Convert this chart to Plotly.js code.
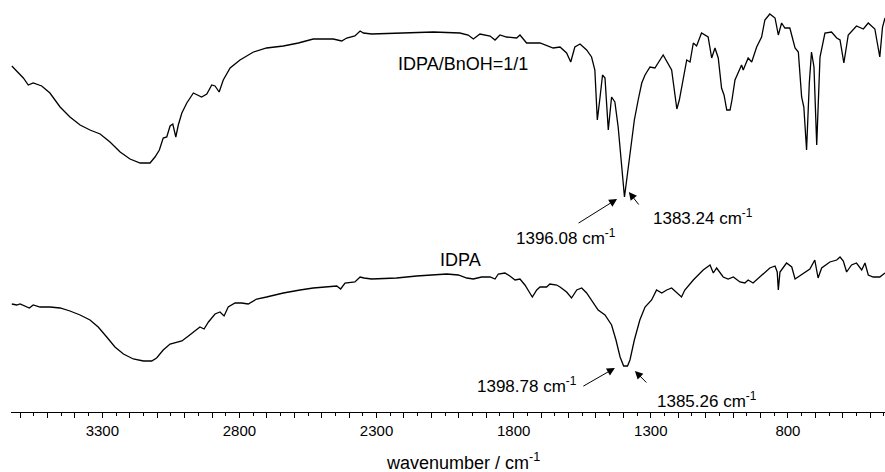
<!DOCTYPE html>
<html>
<head>
<meta charset="utf-8">
<script src="https://cdn.plot.ly/plotly-3.0.1.min.js"></script>
<style>html,body{margin:0;padding:0;background:#fff;}#chart{width:885px;height:472px;}</style>
</head>
<body>
<div id="chart"></div>
<script>
// IDPA/BnOH=1/1 spectrum (wavenumber, relative transmittance, arbitrary units with offset)
const wnMix = [3630,3612,3588,3570,3552,3521,3491,3454,3418,3381,3345,3308,3272,3235,3199,3162,3126,3108,3092,3078,3065,3053,3043,3032,3023,3010,2992,2968,2938,2919,2901,2889,2874,2859,2834,2798,2749,2701,2640,2585,2531,2458,2427,2409,2379,2360,2348,2318,2215,2093,1996,1966,1947,1923,1886,1868,1850,1826,1789,1777,1753,1729,1704,1656,1631,1607,1592,1577,1558,1534,1516,1504,1495,1485,1476,1467,1455,1443,1431,1419,1406,1396,1388,1376,1360,1346,1333,1321,1303,1285,1255,1224,1214,1205,1196,1188,1169,1157,1145,1133,1115,1091,1078,1066,1054,1042,1033,1023,1011,1004,993,969,963,945,932,914,896,884,866,847,835,823,811,793,774,762,750,742,732,722,714,705,695,683,665,641,622,610,596,580,550,525,507,483,465,455,446];
const tMix = [346,341,334,327,329,326,319,305,295,287,282,278,270,260,253,249,249,255,262,274,275,286,288,275,287,299,309,319,315,318,327,326,320,332,344,352,360,364,366,369,373,373,371,374,376,381,379,378,379,380,379,377,373,378,376,372,377,375,374,377,369,369,369,364,365,359,350,365,368,362,355,342,292,315,337,334,282,315,310,285,242,215,232,258,292,312,329,337,345,344,357,342,322,303,312,325,352,350,369,366,379,375,354,364,354,324,317,302,302,312,332,347,342,354,350,365,375,392,398,394,377,389,384,384,364,360,315,305,262,329,360,345,267,355,379,380,374,372,349,377,386,383,389,383,355,385,394];

// IDPA spectrum
const wnIdpa = [3630,3612,3600,3582,3566,3552,3527,3491,3454,3418,3381,3345,3315,3284,3254,3223,3187,3150,3120,3102,3078,3053,3029,3010,2986,2968,2944,2929,2913,2889,2871,2856,2841,2816,2792,2768,2737,2701,2640,2579,2531,2445,2431,2415,2379,2360,2346,2318,2227,2154,2093,2044,2002,1971,1947,1917,1886,1868,1856,1832,1814,1795,1777,1759,1741,1732,1716,1704,1680,1668,1643,1631,1607,1589,1570,1552,1534,1510,1492,1467,1455,1443,1427,1412,1399,1385,1376,1360,1340,1321,1297,1279,1260,1242,1224,1206,1188,1176,1145,1109,1084,1072,1060,1036,1018,999,975,957,945,927,902,866,847,839,835,829,805,786,774,744,720,702,690,677,647,622,610,598,586,568,550,531,519,507,489,465,446];
const tIdpa = [108,107,108,106,104,107,105,105,104,101,97,92,85,75,65,58,53,51,51,54,62,68,70,71,76,80,85,83,90,98,100,96,105,109,109,108,113,115,119,122,124,126,123,129,130,135,134,133,134,136,137,138,137,134,133,135,135,133,138,139,136,132,133,127,119,115,122,125,125,128,127,125,120,114,122,124,119,110,102,97,92,87,72,55,46,46,52,72,92,105,112,122,119,122,124,119,115,122,132,142,147,139,144,135,133,135,130,129,132,129,135,144,146,140,122,140,149,145,133,139,143,152,134,144,150,152,155,151,140,147,149,142,149,137,135,135,139];

const majorTicks = [3600,3500,3400,3300,3200,3100,3000,2900,2800,2700,2600,2500,2400,2300,2200,2100,2000,1900,1800,1700,1600,1500,1400,1300,1200,1100,1000,900,800,700,600,500];
const labeledTicks = [3300,2800,2300,1800,1300,800];
const tickText = majorTicks.map(v => labeledTicks.includes(v) ? String(v) : '');

const FONT = 'Arial, "Liberation Sans", sans-serif';

const traces = [
  {x: wnMix, y: tMix, type: 'scatter', mode: 'lines', line: {color: '#000', width: 1.3}, hoverinfo: 'skip'},
  {x: wnIdpa, y: tIdpa, type: 'scatter', mode: 'lines', line: {color: '#000', width: 1.3}, hoverinfo: 'skip'}
];

function arrow(x, y, ax, ay) {
  return {x: x, y: y, xref: 'x', yref: 'y', text: '', showarrow: true, arrowhead: 2, arrowsize: 1.6, arrowwidth: 1, arrowcolor: '#000', ax: ax, ay: ay, standoff: 0, startstandoff: 0};
}
function label(text, x, y, size) {
  return {x: x, y: y, xref: 'x', yref: 'y', text: text, showarrow: false, font: {family: FONT, size: size, color: '#000'}, xanchor: 'center', yanchor: 'middle'};
}

const layout = {
  width: 885, height: 472,
  margin: {l: 11, r: 0, t: 0, b: 60},
  paper_bgcolor: '#fff', plot_bgcolor: '#fff',
  showlegend: false,
  xaxis: {
    range: [3633, 446],
    tickmode: 'array', tickvals: majorTicks, ticktext: tickText,
    ticks: 'outside', ticklen: 5, tickwidth: 1, tickcolor: '#000',
    minor: {dtick: 50, tick0: 0, ticks: 'outside', ticklen: 3, tickwidth: 1, tickcolor: '#000', showgrid: false},
    showline: true, linecolor: '#000', linewidth: 1,
    showgrid: false, zeroline: false,
    tickfont: {family: FONT, size: 15, color: '#000'}
  },
  yaxis: {range: [0, 412], visible: false, showgrid: false, zeroline: false},
  annotations: [
    label('IDPA/BnOH=1/1', 1985, 348, 18),
    label('IDPA', 1994, 152, 18),
    label('1396.08 cm<sup>-1</sup>', 1609, 175, 17),
    label('1383.24 cm<sup>-1</sup>', 1110, 195, 17),
    label('1398.78 cm<sup>-1</sup>', 1752, 27, 17),
    label('1385.26 cm<sup>-1</sup>', 1095, 12, 17),
    arrow(1423, 213, -40, 25),
    arrow(1380, 220, 11, 14),
    arrow(1431, 44, -33, 19),
    arrow(1358, 41, 13, 13),
    {xref: 'paper', yref: 'paper', x: 0.517, y: -0.119, xanchor: 'center', yanchor: 'middle', showarrow: false,
     text: 'wavenumber / cm<sup>-1</sup>', font: {family: FONT, size: 18, color: '#000'}}
  ]
};

Plotly.newPlot('chart', traces, layout, {staticPlot: true, displayModeBar: false});
</script>
</body>
</html>
